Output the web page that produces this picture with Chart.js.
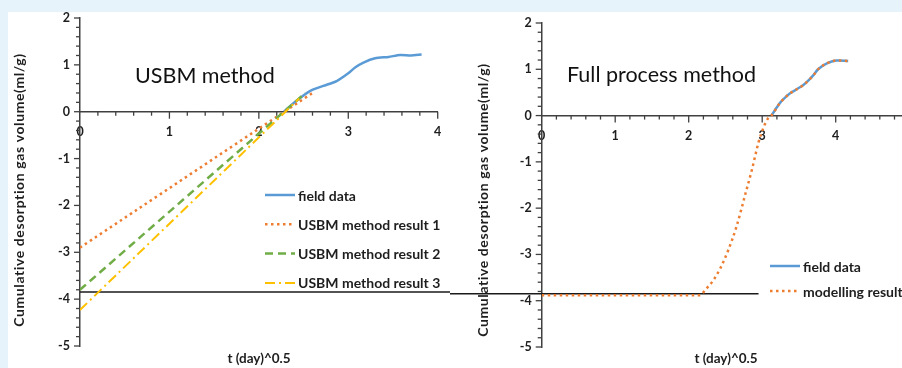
<!DOCTYPE html>
<html>
<head>
<meta charset="utf-8">
<script src="https://cdn.jsdelivr.net/npm/chart.js@4.4.1/dist/chart.umd.min.js"></script>
<style>
  html, body { margin: 0; padding: 0; width: 902px; height: 368px; overflow: hidden; background: #e6f3fb; }
  #sheet { position: absolute; left: 8px; top: 12px; width: 894px; height: 356px; background: #ffffff; overflow: hidden; }
  #c1 { position: absolute; left: 0; top: 0; }
  #c2 { position: absolute; left: 442px; top: 0; }
</style>
</head>
<body>
<div id="sheet">
  <canvas id="c1" width="442" height="356"></canvas>
  <canvas id="c2" width="470" height="356"></canvas>
</div>
<script>
// ---- USBM method panel ----
const usbmFieldT = [2.28, 2.4, 2.57, 2.72, 2.87, 3.0, 3.08, 3.17, 3.3, 3.45, 3.58, 3.7, 3.82];
const usbmFieldV = [0.0, 0.2, 0.44, 0.55, 0.655, 0.82, 0.95, 1.05, 1.14, 1.17, 1.21, 1.2, 1.22];
const usbm1T = [0, 2.6];
const usbm1V = [-2.9, 0.4];
const usbm2T = [0, 2.52];
const usbm2V = [-3.8, 0.4];
const usbm3T = [0, 2.45];
const usbm3V = [-4.23, 0.28];

// ---- Full process method panel ----
const fullFieldT = [3.13, 3.2, 3.24, 3.3, 3.38, 3.47, 3.56, 3.63, 3.7, 3.76, 3.88, 4.01, 4.17];
const fullFieldV = [0.01, 0.18, 0.27, 0.37, 0.48, 0.57, 0.66, 0.76, 0.88, 1.0, 1.13, 1.19, 1.18];
const modelT = [0, 2.15, 2.24, 2.33, 2.43, 2.54, 2.65, 2.77, 2.86, 2.95, 3.02, 3.08, 3.13, 3.24, 3.38, 3.56, 3.7, 3.76, 3.88, 4.01, 4.17];
const modelV = [-3.88, -3.88, -3.74, -3.57, -3.3, -2.9, -2.4, -1.7, -1.17, -0.58, -0.25, -0.06, 0.01, 0.27, 0.48, 0.66, 0.88, 1.0, 1.13, 1.19, 1.18];

// lost-gas level shared by both panels
const lostGasLevel = -3.85;
const leftLevelT = [0, 4.2];
const rightLevelT = [-1.3, 2.95];

// axes
const yRange = [-5, 2];
const leftXRange = [0, 4];
const rightXRange = [0, 5];

const yTitle = 'Cumulative desorption gas volume(ml/g)';
const xTitle = 't (day)^0.5';

const BLUE = '#5b9bd5', ORANGE = '#ed7d31', GREEN = '#70ad47', GOLD = '#ffc000';
const AXIS = '#404040', TEXT = '#1e1e1e';
const FONT = 'Lato, "Open Sans", sans-serif';

Chart.defaults.font.family = FONT;

const pts = (ts, vs) => ts.map((t, i) => ({ x: t, y: vs[i] }));

// minor/major tick marks, titles and in-plot legend
const decor = {
  id: 'decor',
  afterDraw(chart, args, o) {
    const { ctx } = chart;
    const xs = chart.scales.x, ys = chart.scales.y;
    const axisY = ys.getPixelForValue(0);
    const axisX = xs.getPixelForValue(0);
    ctx.save();
    ctx.strokeStyle = AXIS;
    ctx.lineWidth = 1.3;
    ctx.setLineDash([]);
    for (let i = 1; i <= xs.max * 5; i++) {
      const px = xs.getPixelForValue(i / 5);
      const len = i % 5 === 0 ? 7 : 4;
      ctx.beginPath(); ctx.moveTo(px, axisY); ctx.lineTo(px, axisY + len); ctx.stroke();
    }
    for (let i = ys.min * 5; i <= ys.max * 5; i++) {
      const py = ys.getPixelForValue(i / 5);
      const len = i % 5 === 0 ? 6 : 4;
      ctx.beginPath(); ctx.moveTo(axisX - len, py); ctx.lineTo(axisX, py); ctx.stroke();
    }

    // panel title
    ctx.fillStyle = '#111';
    ctx.font = `${o.title.size}px ${FONT}`;
    ctx.textAlign = 'left';
    ctx.textBaseline = 'alphabetic';
    ctx.fillText(o.title.text, o.title.x, o.title.y);

    // axis titles
    ctx.fillStyle = TEXT;
    ctx.textAlign = 'center';
    ctx.textBaseline = 'middle';
    ctx.font = `bold 13.5px ${FONT}`;
    ctx.fillText(xTitle, o.xTitle.x, o.xTitle.y);
    ctx.save();
    ctx.font = `bold 14px ${FONT}`;
    if ('letterSpacing' in ctx) ctx.letterSpacing = '0.6px';
    ctx.translate(o.yTitle.x, o.yTitle.y);
    ctx.rotate(-Math.PI / 2);
    ctx.fillText(yTitle, 0, 0);
    ctx.restore();

    // legend
    ctx.font = `bold 14px ${FONT}`;
    ctx.textAlign = 'left';
    let row = 0;
    chart.data.datasets.forEach(ds => {
      if (!ds.label) return;
      const ly = o.legend.y + row * o.legend.dy;
      ctx.strokeStyle = ds.borderColor;
      ctx.lineWidth = ds.borderWidth;
      ctx.setLineDash(ds.borderDash || []);
      ctx.beginPath(); ctx.moveTo(o.legend.x, ly); ctx.lineTo(o.legend.x + 30, ly); ctx.stroke();
      ctx.setLineDash([]);
      ctx.fillStyle = TEXT;
      ctx.fillText(ds.label, o.legend.x + 33, ly + 1);
      row++;
    });
    ctx.restore();
  }
};

// keep the plot area exactly where the layout padding puts it
function pinScale(size, horizontal) {
  return function (s) {
    if (horizontal) s.height = size; else s.width = size;
    s.paddingTop = 0; s.paddingBottom = 0; s.paddingLeft = 0; s.paddingRight = 0;
  };
}

function scaleOpts(xRange, yAxisWidth) {
  const common = {
    type: 'linear',
    grid: { display: false, drawTicks: false },
    border: { color: AXIS, width: 1.5 },
    ticks: { stepSize: 1, color: TEXT, font: { size: 12.5, weight: 'bold' } }
  };
  return {
    x: Object.assign({}, common, {
      min: xRange[0], max: xRange[1], position: { y: 0 },
      ticks: Object.assign({}, common.ticks, { padding: 13, autoSkip: false, maxRotation: 0 }),
      afterFit: pinScale(0, true)
    }),
    y: Object.assign({}, common, {
      min: yRange[0], max: yRange[1], position: 'left',
      ticks: Object.assign({}, common.ticks, { padding: 10 }),
      afterFit: pinScale(yAxisWidth, false)
    })
  };
}

function lineDs(label, data, color, dash, width, order, extra) {
  return Object.assign({
    label, data, borderColor: color, backgroundColor: color,
    borderDash: dash, borderWidth: width, pointRadius: 0, fill: false,
    tension: 0.25, order
  }, extra || {});
}

new Chart(document.getElementById('c1'), {
  type: 'line',
  data: {
    datasets: [
      lineDs('field data', pts(usbmFieldT, usbmFieldV), BLUE, [], 2.5, 5),
      lineDs('USBM method result 1', pts(usbm1T, usbm1V), ORANGE, [2.5, 3.5], 2.5, 3),
      lineDs('USBM method result 2', pts(usbm2T, usbm2V), GREEN, [8, 5], 2.5, 2),
      lineDs('USBM method result 3', pts(usbm3T, usbm3V), GOLD, [10, 4, 2, 4], 2, 1),
      lineDs('', pts(leftLevelT, leftLevelT.map(() => lostGasLevel)), '#1a1a1a', [], 1.5, 4, { clip: false, tension: 0 })
    ]
  },
  options: {
    responsive: false,
    animation: false,
    layout: { padding: { left: 0, right: 12.3, top: 6, bottom: 22 } },
    scales: scaleOpts(leftXRange, 72),
    plugins: {
      legend: { display: false },
      tooltip: { enabled: false },
      decor: {
        title: { text: 'USBM method', x: 127, y: 71, size: 21.5 },
        xTitle: { x: 251, y: 347 },
        yTitle: { x: 11, y: 178 },
        legend: { x: 257, y: 183, dy: 29.3 }
      }
    }
  },
  plugins: [decor]
});

new Chart(document.getElementById('c2'), {
  type: 'line',
  data: {
    datasets: [
      lineDs('field data', pts(fullFieldT, fullFieldV), BLUE, [], 2.5, 5),
      lineDs('modelling result', pts(modelT, modelV), ORANGE, [2.5, 3.5], 2.5, 1, { cubicInterpolationMode: 'monotone' }),
      lineDs('', pts(rightLevelT, rightLevelT.map(() => lostGasLevel)), '#1a1a1a', [], 1.5, 4, { clip: false, tension: 0 })
    ]
  },
  options: {
    responsive: false,
    animation: false,
    layout: { padding: { left: 0, right: 10.8, top: 11, bottom: 21 } },
    scales: scaleOpts(rightXRange, 91.7),
    plugins: {
      legend: { display: false },
      tooltip: { enabled: false },
      decor: {
        title: { text: 'Full process method', x: 117, y: 70, size: 21.5 },
        xTitle: { x: 276, y: 347 },
        yTitle: { x: 33, y: 188 },
        legend: { x: 320, y: 254, dy: 25 }
      }
    }
  },
  plugins: [decor]
});
</script>
</body>
</html>
